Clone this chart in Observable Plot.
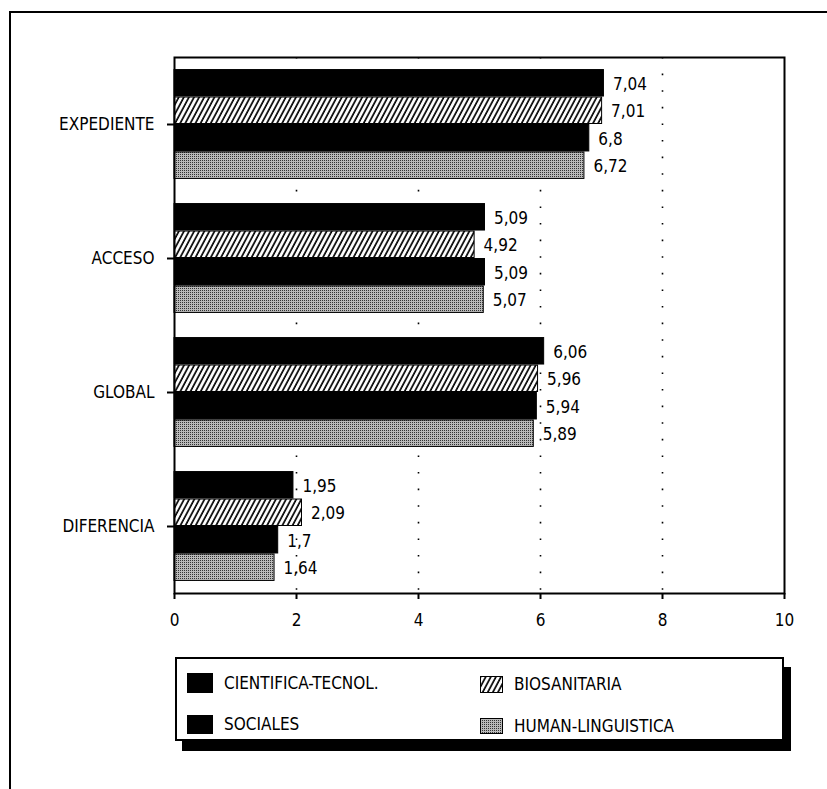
<!DOCTYPE html>
<html>
<head>
<meta charset="utf-8">
<script src="https://cdn.jsdelivr.net/npm/d3@7"></script>
<script src="https://cdn.jsdelivr.net/npm/@observablehq/plot@0.6"></script>
<style>
  html, body { margin: 0; padding: 0; background: #fff; }
  #page { position: relative; width: 827px; height: 789px; overflow: hidden;
          font-family: 'Liberation Sans Narrow', 'Arial Narrow', 'DejaVu Sans Condensed', sans-serif; }
  #border { position: absolute; left: 9px; top: 11px; right: -10px; bottom: -10px;
            border-top: 2px solid #000; border-left: 2px solid #000; }
  #chart { position: absolute; left: 0; top: 0; }
  #legend { position: absolute; left: 175px; top: 657px; width: 605px; height: 80px;
            border: 2px solid #000; box-shadow: 7px 10px 0 0 #000; background: #fff; }
  .item { position: absolute; display: flex; align-items: center; font-size: 17px; color: #000; }
  .item svg { margin-right: 11px; }
</style>
</head>
<body>
<svg width="0" height="0" style="position:absolute">
  <defs>
    <pattern id="hatch" width="4.5" height="10" patternUnits="userSpaceOnUse" patternTransform="rotate(28)">
      <rect width="4.5" height="10" fill="#fff"/>
      <line x1="1" y1="0" x2="1" y2="10" stroke="#000" stroke-width="1.7"/>
    </pattern>
    <pattern id="dots" width="2" height="2" patternUnits="userSpaceOnUse">
      <rect width="2" height="2" fill="#b9b9b9"/>
      <rect width="1" height="1" fill="#333"/>
    </pattern>
  </defs>
</svg>
<div id="page">
  <div id="border"></div>
  <div id="chart"></div>
  <div id="legend"></div>
</div>
<script>
// Score groups and the four degree branches
const categories = ["EXPEDIENTE", "ACCESO", "GLOBAL", "DIFERENCIA"];
const series = ["CIENTIFICA-TECNOL.", "BIOSANITARIA", "SOCIALES", "HUMAN-LINGUISTICA"];

// Mean values per branch, in category order
const cientifica = [7.04, 5.09, 6.06, 1.95];
const biosanitaria = [7.01, 4.92, 5.96, 2.09];
const sociales = [6.8, 5.09, 5.94, 1.7];
const human = [6.72, 5.07, 5.89, 1.64];

const xTicks = [0, 2, 4, 6, 8, 10];
const gridTicks = [2, 4, 6, 8];

const seriesValues = [cientifica, biosanitaria, sociales, human];
const fills = {
  "CIENTIFICA-TECNOL.": "#000",
  "BIOSANITARIA": "url(#hatch)",
  "SOCIALES": "#000",
  "HUMAN-LINGUISTICA": "url(#dots)"
};

const rows = categories.flatMap((c, i) =>
  series.map((s, j) => ({category: c, series: s, value: seriesValues[j][i]}))
);

const fmt = v => String(v).replace(".", ",");
const font = "'Liberation Sans Narrow', 'Arial Narrow', 'DejaVu Sans Condensed', sans-serif";

// Plot geometry; each category band is split into four equal rows, one per branch
const W = 827, H = 645, mt = 57, mb = 52, ml = 174, mr = 43;
const padInner = 0.18, padOuter = 0.09;
const band = d3.scaleBand(categories, [mt, H - mb]).paddingInner(padInner).paddingOuter(padOuter);
const sub = band.bandwidth() / series.length;

const barMarks = series.map((s, j) => Plot.barX(rows.filter(r => r.series === s), {
  y: "category", x: "value",
  fill: fills[s], stroke: "#000", strokeWidth: 1,
  insetTop: j * sub + 0.5, insetBottom: (series.length - 1 - j) * sub + 0.5
}));

const labelMarks = series.map((s, j) => Plot.text(rows.filter(r => r.series === s), {
  y: "category", x: "value",
  text: d => fmt(d.value), textAnchor: "start",
  dx: 9, dy: (j - (series.length - 1) / 2) * sub + 1, fill: "#000"
}));

const chart = Plot.plot({
  width: W,
  height: H,
  marginLeft: ml,
  marginRight: mr,
  marginTop: mt,
  marginBottom: mb,
  style: {fontFamily: font, fontSize: "17px", color: "#000", background: "transparent"},
  x: {domain: [0, 10], label: null},
  y: {domain: categories, paddingInner: padInner, paddingOuter: padOuter, round: false, label: null},
  marks: [
    Plot.ruleX(gridTicks, {stroke: "#000", strokeWidth: 1.6, strokeDasharray: "1.6,15"}),
    ...barMarks,
    ...labelMarks,
    Plot.frame({stroke: "#000", strokeWidth: 2}),
    Plot.axisX({ticks: xTicks, tickSize: 6, tickPadding: 14, tickFormat: d => String(d), strokeWidth: 2}),
    Plot.axisY({tickSize: 7, tickPadding: 13, label: null, strokeWidth: 2})
  ]
});
document.getElementById("chart").appendChild(chart);

// Legend: two columns, two rows
const legend = document.getElementById("legend");
const layout = [
  {s: "CIENTIFICA-TECNOL.", left: 10, top: 14, w: 26, h: 20},
  {s: "BIOSANITARIA", left: 303, top: 15, w: 23, h: 17},
  {s: "SOCIALES", left: 10, top: 55, w: 26, h: 19},
  {s: "HUMAN-LINGUISTICA", left: 303, top: 57, w: 23, h: 16}
];
for (const it of layout) {
  const div = document.createElement("div");
  div.className = "item";
  div.style.left = it.left + "px";
  div.style.top = it.top + "px";
  div.innerHTML =
    `<svg width="${it.w}" height="${it.h}"><rect x="0.5" y="0.5" width="${it.w - 1}" height="${it.h - 1}" fill="${fills[it.s]}" stroke="#000"/></svg><span>${it.s}</span>`;
  legend.appendChild(div);
}
</script>
</body>
</html>
